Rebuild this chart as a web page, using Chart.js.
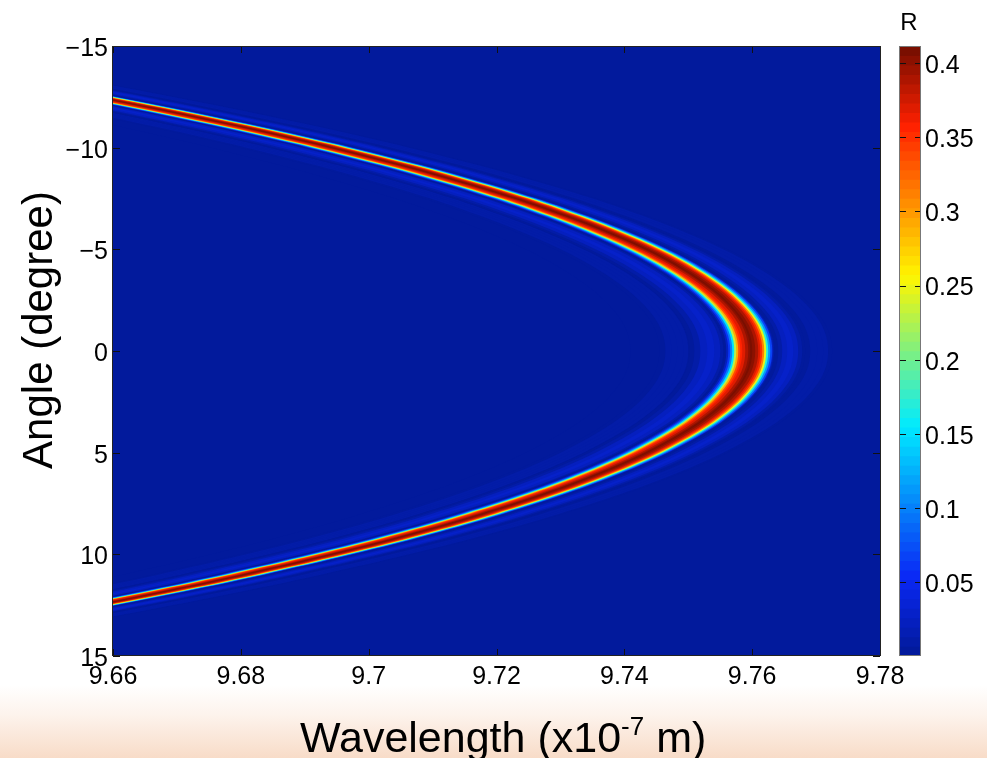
<!DOCTYPE html>
<html>
<head>
<meta charset="utf-8">
<script src="https://cdn.jsdelivr.net/npm/chart.js@4/dist/chart.umd.min.js"></script>
<style>
html,body{margin:0;padding:0;width:987px;height:758px;overflow:hidden;background:#fff}
#bg{position:absolute;left:0;top:0;width:987px;height:758px;background:linear-gradient(to bottom,#fff 0,#fff 685px,#fdf3ec 715px,#f8dcc8 758px)}
canvas{position:absolute;top:0}
#main{left:0}
#bar{left:880px}
</style>
</head>
<body>
<div id="bg"></div>
<canvas id="main" width="987" height="758"></canvas>
<canvas id="bar" width="107" height="758"></canvas>
<script>
// Tick values
const wavelengthTicks = [9.66, 9.68, 9.70, 9.72, 9.74, 9.76, 9.78];
const angleTicks = [-15, -10, -5, 0, 5, 10, 15];
const reflectanceTicks = [0.05, 0.10, 0.15, 0.20, 0.25, 0.30, 0.35, 0.40];
const reflectanceRange = [0.0002, 0.4115];

// Resonance crest: wavelength (x10^-7 m) read at each angle (degree)
const crestAngle = [-16,-15,-14,-13,-12,-11,-10,-9,-8,-7,-6,-5,-4,-3,-2,-1,0,1,2,3,4,5,6,7,8,9,10,11,12,13,14,15,16];
const crestWavelength = [9.5918,9.6121,9.6311,9.6488,9.6652,9.6803,9.6941,9.7066,9.7177,9.7276,9.7361,9.7433,9.7492,9.7538,9.7571,9.7591,9.7597,9.7591,9.7571,9.7538,9.7492,9.7433,9.7361,9.7276,9.7177,9.7066,9.6941,9.6803,9.6652,9.6488,9.6311,9.6121,9.5918];

// Reflectance read across the crest: wavelength offset from crest and R there
const profileOffset = [-0.01875,-0.01422,-0.01328,-0.01234,-0.01141,-0.01047,-0.00969,-0.00953,-0.00875,-0.00781,-0.00672,-0.00563,-0.00469,-0.00422,-0.00406,-0.00375,-0.00344,-0.00313,-0.00281,-0.0025,-0.00219,-0.00188,-0.00156,-0.00125,-0.00078,-0.00031,0,0.00031,0.00078,0.00125,0.00156,0.00188,0.00219,0.0025,0.00281,0.00313,0.00344,0.00359,0.00375,0.00438,0.005,0.00578,0.00672,0.0075,0.00813,0.00859,0.00938,0.01047,0.01141,0.01219,0.01281];
const profileR = [0.001,0.003,0.007,0.011,0.013,0.011,0.006,0.002,0.011,0.021,0.026,0.022,0.010,0.003,0.004,0.025,0.06,0.10,0.15,0.23,0.29,0.335,0.355,0.37,0.39,0.405,0.41,0.405,0.39,0.37,0.35,0.31,0.25,0.17,0.11,0.07,0.025,0.01,0.003,0.012,0.022,0.026,0.020,0.010,0.004,0.003,0.009,0.013,0.009,0.004,0.001];

const farWavelength = 9.80;
const colorStops = [[0,2,26,156],[0.125,10,40,245],[0.375,0,235,255],[0.625,255,245,0],[0.875,255,32,0],[1,122,15,0]];
const LEVELS = 64;

function jet(r){
  const span = reflectanceRange[1]-reflectanceRange[0];
  let t = Math.max(0,Math.min(1,(r-reflectanceRange[0])/span));
  t = Math.min(LEVELS-1,Math.floor(t*LEVELS))/(LEVELS-1);
  for(let i=1;i<colorStops.length;i++){
    const a=colorStops[i-1],b=colorStops[i];
    if(t<=b[0]){
      const f=(t-a[0])/(b[0]-a[0]);
      return 'rgb('+[1,2,3].map(k=>Math.round(a[k]+(b[k]-a[k])*f)).join(',')+')';
    }
  }
  return 'rgb(122,15,0)';
}

const FONT = '"Liberation Sans", Arial, sans-serif';
const INK = '#111';
const tickFont = {family:FONT,size:25};
const shiftedFont = {family:FONT,size:25,lineHeight:'6px'};

// Each band fills everything on the long-wavelength side of a curve; later bands paint over earlier ones.
const bands = profileOffset.map((off,i)=>{
  const pts = crestAngle.map((a,k)=>({x:crestWavelength[k]+off,y:a}));
  pts.push({x:farWavelength,y:crestAngle[crestAngle.length-1]});
  pts.push({x:farWavelength,y:crestAngle[0]});
  return {
    data:pts, showLine:true, fill:'shape', backgroundColor:jet(profileR[i]),
    borderWidth:0, pointRadius:0, tension:0.35, capBezierPoints:false,
    order:profileOffset.length-i
  };
});

const frame = {
  id:'frame',
  beforeDatasetsDraw(c){
    const a=c.chartArea,x=c.ctx;
    x.save();x.fillStyle=jet(reflectanceRange[0]);
    x.fillRect(a.left,a.top,a.right-a.left,a.bottom-a.top);x.restore();
  },
  afterDatasetsDraw(c){
    const a=c.chartArea,x=c.ctx,L=7;
    x.save();x.strokeStyle=INK;x.lineWidth=1;x.beginPath();
    wavelengthTicks.forEach(v=>{
      const p=Math.round(c.scales.x.getPixelForValue(v))+0.5;
      x.moveTo(p,a.top);x.lineTo(p,a.top+L);x.moveTo(p,a.bottom);x.lineTo(p,a.bottom-L);
    });
    angleTicks.forEach(v=>{
      const p=Math.round(c.scales.y.getPixelForValue(v))+0.5;
      x.moveTo(a.left,p);x.lineTo(a.left+L,p);x.moveTo(a.right,p);x.lineTo(a.right-L,p);
    });
    x.stroke();
    x.strokeStyle='#222';
    x.strokeRect(a.left-0.5,a.top+0.5,a.right-a.left+1,a.bottom-a.top-1);
    x.restore();
  },
  afterDraw(c){
    const x=c.ctx;
    x.save();x.fillStyle='#000';x.textBaseline='alphabetic';x.textAlign='left';
    x.font='43px '+FONT;
    let px=300;const by=752;
    x.fillText('Wavelength (x10',px,by);px+=x.measureText('Wavelength (x10').width;
    x.font='26px '+FONT;x.fillText('-7',px,by-17);px+=x.measureText('-7').width;
    x.font='43px '+FONT;x.fillText(' m)',px,by);
    x.font='42px '+FONT;
    x.translate(52,330);x.rotate(-Math.PI/2);x.textAlign='center';
    x.fillText('Angle (degree)',0,0);
    x.restore();
  }
};

new Chart(document.getElementById('main'),{
  type:'scatter',
  data:{datasets:bands},
  plugins:[frame],
  options:{
    responsive:false,animation:false,
    layout:{padding:{top:46,right:107,left:0,bottom:0}},
    plugins:{legend:{display:false},tooltip:{enabled:false}},
    scales:{
      x:{type:'linear',min:wavelengthTicks[0],max:wavelengthTicks[wavelengthTicks.length-1],
        afterBuildTicks:s=>{s.ticks=wavelengthTicks.map(v=>({value:v}));},
        afterFit:s=>{s.height=102;},
        grid:{display:false,drawTicks:false},border:{display:false},
        ticks:{autoSkip:false,maxRotation:0,padding:6,color:'#000',font:tickFont,
          callback:v=>String(+v.toFixed(2))}},
      y:{type:'linear',reverse:true,min:angleTicks[0],max:angleTicks[angleTicks.length-1],
        afterBuildTicks:s=>{s.ticks=angleTicks.map(v=>({value:v}));},
        afterFit:s=>{s.width=113;},
        grid:{display:false,drawTicks:false},border:{display:false},
        ticks:{autoSkip:false,padding:5,color:'#000',font:shiftedFont,
          callback:v=>['',v<0?'\u2212'+Math.abs(v):String(v)]}}
    }
  }
});

// Colour bar
const barBands=[];
const step=(reflectanceRange[1]-reflectanceRange[0])/LEVELS;
for(let i=0;i<LEVELS;i++){
  const lo=reflectanceRange[0]+i*step;
  barBands.push({data:[[lo,reflectanceRange[1]]],backgroundColor:jet(lo+step/2),borderWidth:0,order:LEVELS-i,
    barPercentage:1,categoryPercentage:1,grouped:false});
}
const barFrame={
  id:'barFrame',
  afterDatasetsDraw(c){
    const a=c.chartArea,x=c.ctx,L=6;
    x.save();x.strokeStyle=INK;x.lineWidth=1;x.beginPath();
    reflectanceTicks.forEach(v=>{
      const p=Math.round(c.scales.y.getPixelForValue(v))+0.5;
      x.moveTo(a.left,p);x.lineTo(a.left+L,p);x.moveTo(a.right,p);x.lineTo(a.right-L,p);
    });
    x.stroke();
    x.strokeStyle='#777';
    x.strokeRect(a.left-0.5,a.top+0.5,a.right-a.left,a.bottom-a.top-1);
    x.restore();
  },
  afterDraw(c){
    const x=c.ctx;
    x.save();x.fillStyle='#000';x.font='24px '+FONT;x.textAlign='center';x.textBaseline='alphabetic';
    x.fillText('R',29,30);x.restore();
  }
};
new Chart(document.getElementById('bar'),{
  type:'bar',
  data:{labels:['R'],datasets:barBands},
  plugins:[barFrame],
  options:{
    responsive:false,animation:false,
    layout:{padding:{top:46,left:20,right:0,bottom:102}},
    plugins:{legend:{display:false},tooltip:{enabled:false}},
    scales:{
      x:{display:false},
      y:{type:'linear',position:'right',min:reflectanceRange[0],max:reflectanceRange[1],
        afterBuildTicks:s=>{s.ticks=reflectanceTicks.map(v=>({value:v}));},
        afterFit:s=>{s.width=66;},
        grid:{display:false,drawTicks:false},border:{display:false},
        ticks:{autoSkip:false,padding:4,color:'#000',font:shiftedFont,
          callback:v=>['',String(+v.toFixed(2))]}}
    }
  }
});
</script>
</body>
</html>
